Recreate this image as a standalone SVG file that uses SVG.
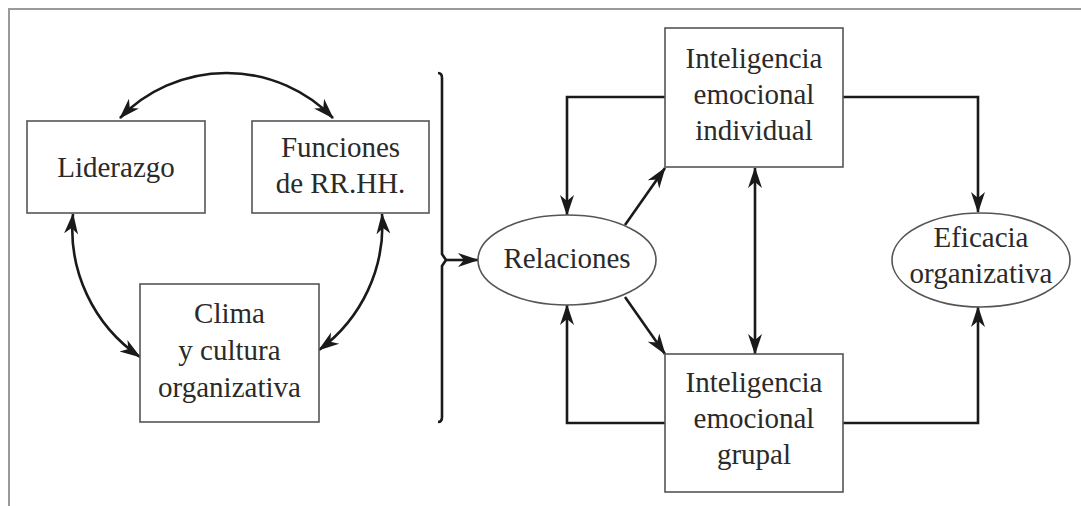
<svg xmlns="http://www.w3.org/2000/svg" width="1081" height="506" viewBox="0 0 1081 506">
<style>
.box{fill:#fff;stroke:#555;stroke-width:1.6}
.lbl{font-family:'Liberation Serif','DejaVu Serif',serif;font-size:29px;fill:#2a2a2a;text-anchor:middle}
.con{fill:none;stroke:#1a1a1a;stroke-width:2.6}
.frame{fill:none;stroke:#9a9a9a;stroke-width:2}
</style>
<defs>
<marker id="ah" markerUnits="userSpaceOnUse" markerWidth="22" markerHeight="16" refX="20" refY="8" orient="auto-start-reverse">
<path d="M0,1 L21,8 L0,15 L6,8 z" fill="#1a1a1a"/>
</marker>
</defs>
<rect width="1081" height="506" fill="#fff"/>
<path class="frame" d="M9,506 V9 H1081"/>
<g id="connectors">
<path class="con" d="M120,118 A148.5 148.5 0 0 1 333,118" marker-start="url(#ah)" marker-end="url(#ah)"/>
<path class="con" d="M73,214 A155 155 0 0 0 140,357" marker-start="url(#ah)" marker-end="url(#ah)"/>
<path class="con" d="M382,214 A155 155 0 0 1 319,350" marker-start="url(#ah)" marker-end="url(#ah)"/>
<path class="con" d="M438,73 Q442,73 442,78 L442,254 L446,260 L442,266 L442,417 Q442,422 438,422"/>
<path class="con" d="M446,260 L478,260" marker-end="url(#ah)"/>
<path class="con" d="M665,97 H567 V215" marker-end="url(#ah)"/>
<path class="con" d="M625,225 L665,168" marker-end="url(#ah)"/>
<path class="con" d="M625,297 L665,354" marker-end="url(#ah)"/>
<path class="con" d="M665,423 H567 V305" marker-end="url(#ah)"/>
<path class="con" d="M755,168 V354" marker-start="url(#ah)" marker-end="url(#ah)"/>
<path class="con" d="M843,97 H978 V212" marker-end="url(#ah)"/>
<path class="con" d="M843,423 H978 V307" marker-end="url(#ah)"/>
</g>
<g id="liderazgo">
<rect class="box" x="27" y="121" width="178" height="92"/>
<text class="lbl" x="116" y="177">Liderazgo</text>
</g>
<g id="funciones">
<rect class="box" x="252" y="121" width="177" height="92"/>
<text class="lbl" x="340.5" y="157">Funciones</text>
<text class="lbl" x="340.5" y="193">de RR.HH.</text>
</g>
<g id="clima">
<rect class="box" x="140" y="284" width="179" height="138"/>
<text class="lbl" x="229.5" y="323">Clima</text>
<text class="lbl" x="229.5" y="360">y cultura</text>
<text class="lbl" x="229.5" y="397">organizativa</text>
</g>
<g id="relaciones">
<ellipse class="box" cx="567" cy="260" rx="89" ry="45"/>
<text class="lbl" x="567" y="268">Relaciones</text>
</g>
<g id="ie-individual">
<rect class="box" x="665" y="28" width="178" height="139"/>
<text class="lbl" x="754" y="68">Inteligencia</text>
<text class="lbl" x="754" y="104">emocional</text>
<text class="lbl" x="754" y="140">individual</text>
</g>
<g id="ie-grupal">
<rect class="box" x="665" y="354" width="178" height="138"/>
<text class="lbl" x="754" y="392">Inteligencia</text>
<text class="lbl" x="754" y="428">emocional</text>
<text class="lbl" x="754" y="464">grupal</text>
</g>
<g id="eficacia">
<ellipse class="box" cx="981" cy="260" rx="89" ry="47"/>
<text class="lbl" x="981" y="247">Eficacia</text>
<text class="lbl" x="981" y="283">organizativa</text>
</g>
</svg>
